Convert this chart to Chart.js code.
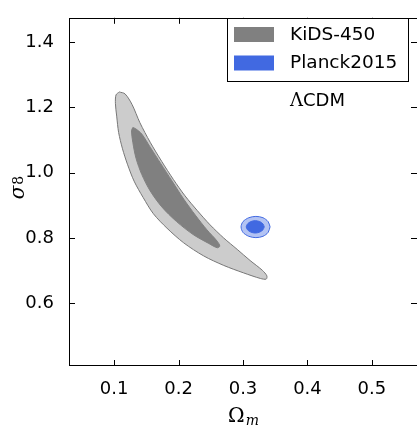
<!DOCTYPE html>
<html>
<head>
<meta charset="UTF-8">
<script src="https://cdn.jsdelivr.net/npm/chart.js"></script>
<style>
    html, body { margin: 0; padding: 0; background: #fff; }
</style>
</head>
<body>
<canvas id="chartContour" width="417" height="426"></canvas>

<script>
    // Eixos
    const xTicks = [0.1, 0.2, 0.3, 0.4, 0.5]
    const yTicks = [0.6, 0.8, 1.0, 1.2, 1.4]

    // KiDS-450, contorno externo (95%)
    const kidsOuterX = [0.108, 0.103, 0.102, 0.104, 0.107, 0.113, 0.121, 0.131, 0.145, 0.161, 0.182, 0.208, 0.239, 0.270,
        0.301, 0.327, 0.336, 0.337, 0.330, 0.311, 0.291, 0.270, 0.249, 0.229, 0.210, 0.192, 0.174, 0.156, 0.140,
        0.128, 0.117, 0.108]
    const kidsOuterY = [1.247, 1.238, 1.212, 1.173, 1.123, 1.073, 1.024, 0.974, 0.924, 0.874, 0.830, 0.785, 0.745, 0.716,
        0.693, 0.676, 0.674, 0.684, 0.701, 0.731, 0.765, 0.800, 0.840, 0.884, 0.929, 0.979, 1.034, 1.093, 1.153,
        1.208, 1.241, 1.247]

    // KiDS-450, contorno interno (68%)
    const kidsInnerX = [0.129, 0.127, 0.129, 0.134, 0.143, 0.156, 0.174, 0.197, 0.223, 0.247, 0.260, 0.264,
        0.260, 0.244, 0.226, 0.208, 0.190, 0.172, 0.156, 0.143, 0.133, 0.129]
    const kidsInnerY = [1.138, 1.128, 1.093, 1.044, 0.994, 0.944, 0.895, 0.850, 0.810, 0.783, 0.770, 0.775,
        0.790, 0.825, 0.870, 0.919, 0.974, 1.029, 1.078, 1.118, 1.135, 1.138]

    // Planck2015
    const planckOuterX = [0.342, 0.339, 0.331, 0.320, 0.309, 0.300, 0.297, 0.300, 0.309, 0.320, 0.331, 0.339, 0.342]
    const planckOuterY = [0.834, 0.850, 0.862, 0.866, 0.862, 0.850, 0.834, 0.817, 0.805, 0.801, 0.805, 0.817, 0.834]
    const planckInnerX = [0.333, 0.331, 0.326, 0.319, 0.312, 0.307, 0.305, 0.307, 0.312, 0.319, 0.326, 0.331, 0.333]
    const planckInnerY = [0.834, 0.843, 0.850, 0.853, 0.850, 0.843, 0.834, 0.825, 0.818, 0.815, 0.818, 0.825, 0.834]

    const legendLabels = ['KiDS-450', 'Planck2015']
    const legendColors = ['#808080', '#4169e1']

    function pontos(xs, ys) {
        var p = []
        for (var i = 0; i < xs.length; i++) {
            p.push({ x: xs[i], y: ys[i] })
        }
        return p
    }

    function contorno(xs, ys, fundo, borda, ordem) {
        return {
            data: pontos(xs, ys),
            showLine: true,
            fill: 'shape',
            backgroundColor: fundo,
            borderColor: borda,
            borderWidth: 1,
            tension: 0.3,
            pointRadius: 0,
            order: ordem
        }
    }

    // Moldura, ticks internos, legenda e títulos
    const molduraPlugin = {
        id: 'moldura',
        afterDraw(chart) {
            const ctx = chart.ctx
            const a = chart.chartArea
            const sx = chart.scales.x
            const sy = chart.scales.y
            ctx.save()
            ctx.strokeStyle = '#000'
            ctx.lineWidth = 1
            ctx.strokeRect(Math.round(a.left) + 0.5, Math.round(a.top) + 0.5,
                Math.round(a.right - a.left), Math.round(a.bottom - a.top) - 1)

            const tl = 6
            ctx.beginPath()
            xTicks.forEach(function (v) {
                const px = Math.round(sx.getPixelForValue(v)) + 0.5
                ctx.moveTo(px, a.bottom); ctx.lineTo(px, a.bottom - tl)
                ctx.moveTo(px, a.top); ctx.lineTo(px, a.top + tl)
            })
            yTicks.forEach(function (v) {
                const py = Math.round(sy.getPixelForValue(v)) + 0.5
                ctx.moveTo(a.left, py); ctx.lineTo(a.left + tl, py)
                ctx.moveTo(a.right, py); ctx.lineTo(a.right - tl, py)
            })
            ctx.stroke()

            // legenda
            ctx.fillStyle = '#fff'
            ctx.fillRect(227.5, 18.5, 181, 63)
            ctx.strokeRect(227.5, 18.5, 181, 63)
            ctx.font = '18.5px "DejaVu Sans"'
            ctx.textBaseline = 'middle'
            ctx.textAlign = 'left'
            legendLabels.forEach(function (lab, i) {
                ctx.fillStyle = legendColors[i]
                ctx.fillRect(234, 27 + i * 28.5, 40, 15)
                ctx.fillStyle = '#000'
                ctx.fillText(lab, 290, 35 + i * 28)
            })

            // ΛCDM
            ctx.font = '18px "DejaVu Serif"'
            ctx.fillText('Λ', 290, 101)
            const wl = ctx.measureText('Λ').width
            ctx.font = '18px "DejaVu Sans"'
            ctx.fillText('CDM', 290 + wl, 101)

            // Ω_m
            ctx.textBaseline = 'alphabetic'
            ctx.font = '20px "DejaVu Serif"'
            const wO = ctx.measureText('Ω').width
            ctx.font = 'italic 14px "DejaVu Serif"'
            const wm = ctx.measureText('m').width
            const x0 = 243 - (wO + wm) / 2
            ctx.font = '20px "DejaVu Serif"'
            ctx.fillText('Ω', x0, 422)
            ctx.font = 'italic 14px "DejaVu Serif"'
            ctx.fillText('m', x0 + wO + 1, 425)

            // σ_8
            ctx.translate(24, 188)
            ctx.rotate(-Math.PI / 2)
            ctx.font = 'italic 20px "DejaVu Serif"'
            const ws = ctx.measureText('σ').width
            ctx.font = '14px "DejaVu Serif"'
            const w8 = ctx.measureText('8').width
            const y0 = -(ws + w8) / 2
            ctx.font = 'italic 20px "DejaVu Serif"'
            ctx.fillText('σ', y0, 0)
            ctx.font = '14px "DejaVu Serif"'
            ctx.fillText('8', y0 + ws + 1, -1)
            ctx.restore()
        }
    }

    const configContour = {
        type: 'scatter',
        data: {
            datasets: [
                contorno(kidsInnerX, kidsInnerY, '#808080', '#808080', 1),
                contorno(kidsOuterX, kidsOuterY, 'rgba(128,128,128,0.4)', '#777777', 2),
                contorno(planckInnerX, planckInnerY, '#4169e1', '#4169e1', 1),
                contorno(planckOuterX, planckOuterY, 'rgba(65,105,225,0.4)', '#4169e1', 2)
            ]
        },
        options: {
            responsive: false,
            animation: false,
            layout: { padding: { top: 9, right: 0, left: 0, bottom: 0 } },
            plugins: {
                legend: { display: false },
                tooltip: { enabled: false }
            },
            scales: {
                x: {
                    type: 'linear',
                    min: 0.03,
                    max: 0.57,
                    grid: { display: false },
                    border: { display: false },
                    afterBuildTicks: function (s) { s.ticks = xTicks.map(function (v) { return { value: v } }) },
                    afterFit: function (s) { s.height = 60 },
                    ticks: {
                        color: '#000',
                        padding: 5,
                        maxRotation: 0,
                        font: { family: 'DejaVu Sans', size: 18 },
                        callback: function (v) { return v.toFixed(1) }
                    }
                },
                y: {
                    type: 'linear',
                    min: 0.408,
                    max: 1.474,
                    grid: { display: false },
                    border: { display: false },
                    afterBuildTicks: function (s) { s.ticks = yTicks.map(function (v) { return { value: v } }) },
                    afterFit: function (s) { s.width = 69 },
                    ticks: {
                        color: '#000',
                        padding: 7,
                        font: { family: 'DejaVu Sans', size: 18 },
                        callback: function (v) { return v.toFixed(1) }
                    }
                }
            }
        },
        plugins: [molduraPlugin]
    }

    new Chart(document.getElementById('chartContour'), configContour)
</script>
</body>
</html>
